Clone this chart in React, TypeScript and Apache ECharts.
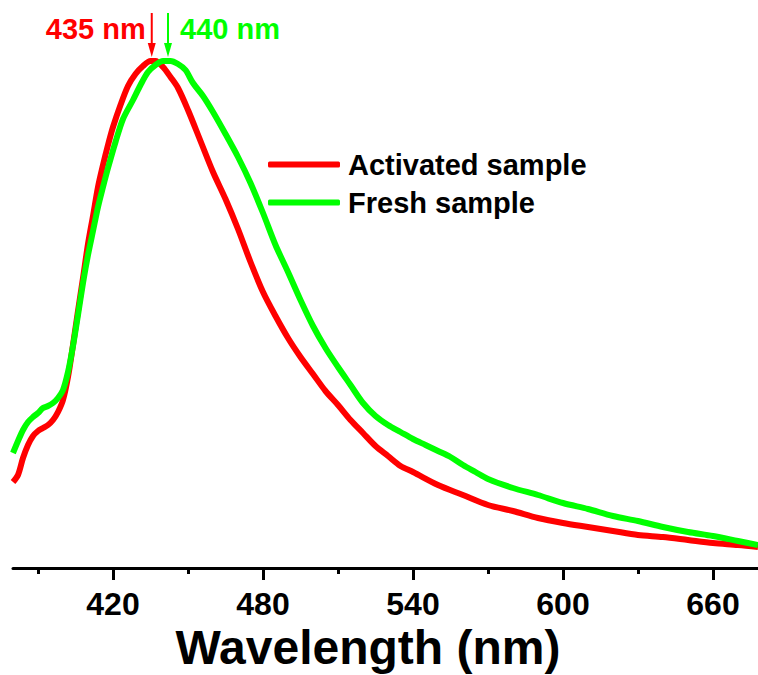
import React, { useEffect, useRef } from "react";
import * as echarts from "echarts";

// Emission spectra (a.u.)
const wlActivated = [380,382,384,386,388,390,392,394,396,398,400,402,404,406,408,410,412,414,416,418,420,423,426,429,432,435,437,440,443,446,450,455,460,465,470,475,480,485,490,495,500,505,510,515,520,525,530,535,540,550,560,570,580,590,600,610,620,630,640,650,660,670,678];
const activated = [86,93,110,123,132,137,140,143,148,156,168,191,223,257,290,324,352,381,403,423,441,463,482,494,502,507,507,501,491,480,458,427,396,369,339,306,276,252,230,211,194,177,163,148,135,122,112,102,96,83,73,63,57,50,45,41,37,33,31,28,25,23,21];

const wlFresh = [380,382,384,386,388,390,392,394,396,398,400,402,404,406,408,410,412,414,416,418,421,424,428,431,434,437,440,443,446,449,452,456,460,465,470,475,480,485,490,495,500,505,510,515,520,525,530,535,540,545,550,555,560,565,570,580,590,600,610,620,630,640,650,660,670,678];
const fresh = [115,127,138,146,151,155,160,162,165,170,178,196,222,253,285,313,337,361,381,400,426,449,468,483,496,503,507,507,504,498,485,472,456,434,411,385,355,323,296,268,242,220,201,183,165,152,143,136,129,123,117,111,103,96,89,80,73,65,59,52,47,41,36,32,27,23];

const seriesNames = ["Activated sample", "Fresh sample"];
const seriesColors = ["#FF0000", "#00FF00"];
const majorTicks = [420, 480, 540, 600, 660];
const minorTicks = [390, 450, 510, 570, 630];
const peakLabels = ["435 nm", "440 nm"];
const peakArrowAt = [435.5, 442];
const xTitle = "Wavelength (nm)";

const FONT = '"Liberation Sans", Arial, sans-serif';

export default function App() {
  const ref = useRef<HTMLDivElement>(null);
  useEffect(() => {
    if (!ref.current) return;
    const chart = echarts.init(ref.current, undefined, { renderer: "svg" });
    const xCommon = {
      type: "value" as const,
      min: 380,
      max: 678,
      splitLine: { show: false },
    };
    chart.setOption({
      animation: false,
      backgroundColor: "#ffffff",
      grid: { left: 13, right: 0, top: 40, bottom: 107, containLabel: false },
      xAxis: [
        {
          ...xCommon,
          axisLine: { show: true, lineStyle: { color: "#000", width: 3 } },
          axisTick: { show: true, customValues: majorTicks, length: 12, inside: false, lineStyle: { color: "#000", width: 3 } },
          axisLabel: {
            show: true,
            customValues: majorTicks,
            margin: 20,
            color: "#000",
            fontFamily: FONT,
            fontWeight: "bold",
            fontSize: 32,
          },
        },
        {
          ...xCommon,
          position: "bottom",
          axisLine: { show: false },
          axisTick: { show: true, customValues: minorTicks, length: 6, lineStyle: { color: "#000", width: 3 } },
          axisLabel: { show: false },
        },
      ],
      yAxis: { type: "value", min: 0, max: 528, show: false },
      legend: {
        orient: "vertical",
        left: 268,
        top: 150,
        padding: 0,
        itemWidth: 72,
        itemHeight: 6,
        itemGap: 9,
        icon: "roundRect",
        textStyle: { fontFamily: FONT, fontWeight: "bold", fontSize: 29, color: "#000", padding: [0, 0, 0, 3], lineHeight: 29 },
        data: seriesNames,
      },
      series: [
        {
          name: seriesNames[0],
          type: "line",
          showSymbol: false,
          smooth: 0.3,
          data: wlActivated.map((w, i) => [w, activated[i]]),
          lineStyle: { color: seriesColors[0], width: 6 },
          itemStyle: { color: seriesColors[0] },
          z: 2,
        },
        {
          name: seriesNames[1],
          type: "line",
          showSymbol: false,
          smooth: 0.3,
          data: wlFresh.map((w, i) => [w, fresh[i]]),
          lineStyle: { color: seriesColors[1], width: 6 },
          itemStyle: { color: seriesColors[1] },
          z: 3,
        },
      ],
    });

    const xs = peakArrowAt.map((w) => chart.convertToPixel({ xAxisIndex: 0 }, w) as number);
    const arrow = (x: number, color: string) => [
      { type: "line", shape: { x1: x, y1: 13, x2: x, y2: 46 }, style: { stroke: color, lineWidth: 2 } },
      { type: "polygon", shape: { points: [[x - 4, 43], [x + 4, 43], [x, 57]] }, style: { fill: color } },
    ];
    chart.setOption({
      graphic: [
        ...arrow(xs[0], seriesColors[0]),
        ...arrow(xs[1], seriesColors[1]),
        {
          type: "text",
          x: xs[0] - 6,
          y: 29,
          style: { text: peakLabels[0], fill: seriesColors[0], fontFamily: FONT, fontWeight: "bold", fontSize: 29, align: "right", verticalAlign: "middle" },
        },
        {
          type: "text",
          x: xs[1] + 12,
          y: 29,
          style: { text: peakLabels[1], fill: seriesColors[1], fontFamily: FONT, fontWeight: "bold", fontSize: 29, align: "left", verticalAlign: "middle" },
        },
        {
          type: "text",
          x: 368,
          y: 647,
          style: { text: xTitle, fill: "#000", fontFamily: FONT, fontWeight: "bold", fontSize: 48, align: "center", verticalAlign: "middle" },
        },
      ],
    });
    return () => chart.dispose();
  }, []);
  return <div ref={ref} style={{ position: "absolute", left: 0, top: 0, width: 758, height: 675 }} />;
}
